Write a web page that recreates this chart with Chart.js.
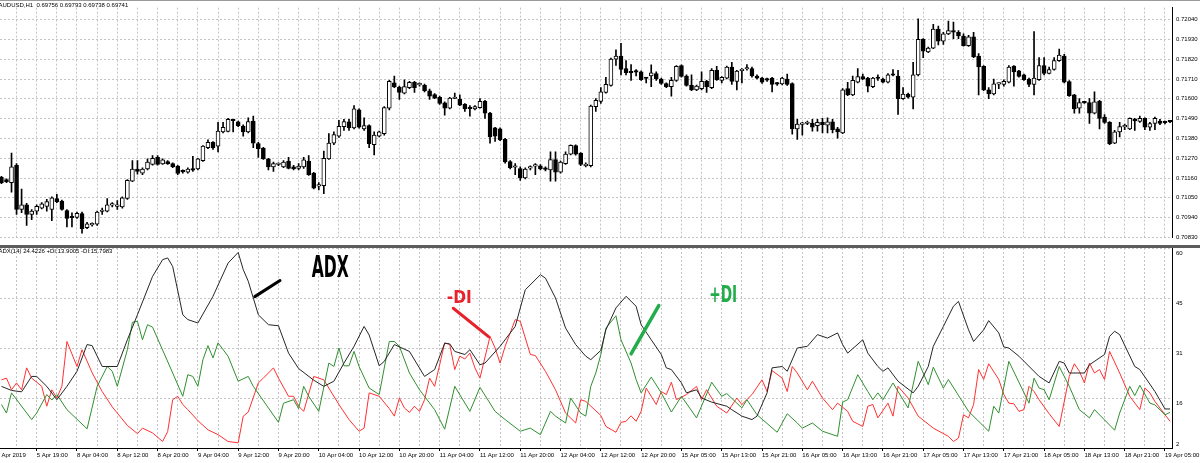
<!DOCTYPE html>
<html>
<head>
<meta charset="utf-8">
<title>AUDUSD H1 with ADX</title>
<script src="https://cdn.jsdelivr.net/npm/chart.js@4.4.1/dist/chart.umd.min.js"></script>
<style>
  html, body { margin: 0; padding: 0; background: #fff; }
  body { position: relative; width: 1200px; height: 463px; overflow: hidden; }
  canvas { position: absolute; left: 0; }
  #priceCanvas { top: 0; }
  #adxCanvas { top: 246px; }
  #topLine { position: absolute; left: 0; top: 0; width: 1200px; height: 1px; background: #9a9a9a; }
  #splitter { position: absolute; left: 0; top: 245px; width: 1200px; height: 3px; background: #5c5c5c; }
</style>
</head>
<body>
<canvas id="priceCanvas" width="1200" height="245"></canvas>
<canvas id="adxCanvas" width="1200" height="217"></canvas>
<div id="topLine"></div>
<div id="splitter"></div>
<script>
// AUDUSD H1 candles, one per bar, prices in points (1 point = 0.00001)
const openPts = [
  71164,71152,71134,71231,70985,71011,70958,70976,70993,71002,
  70985,71046,71032,70979,70942,70941,70962,70884,70900,70904,
  70974,70976,71009,71002,70999,71046,71143,71210,71187,71210,
  71236,71275,71238,71252,71240,71226,71198,71192,71213,71210,
  71257,71328,71358,71337,71416,71419,71483,71472,71449,71416,
  71477,71351,71326,71266,71222,71235,71222,71254,71222,71213,
  71222,71254,71187,71115,71117,71266,71354,71393,71446,71472,
  71439,71539,71433,71451,71345,71393,71407,71548,71689,71666,
  71632,71662,71692,71678,71675,71645,71623,71609,71578,71548,
  71602,71597,71569,71550,71544,71551,71586,71521,71439,71433,
  71375,71252,71220,71213,71161,71215,71226,71228,71212,71205,
  71263,71192,71240,71293,71340,71298,71229,71228,71557,71586,
  71636,71675,71821,71838,71768,71748,71752,71750,71717,71727,
  71741,71710,71685,71668,71703,71785,71727,71675,71650,71657,
  71697,71662,71759,71703,71715,71777,71697,71757,71766,71768,
  71727,71715,71708,71715,71685,71683,71710,71685,71433,71458,
  71463,71465,71451,71469,71454,71472,71433,71411,71657,71622,
  71692,71724,71715,71668,71717,71710,71692,71734,71727,71601,
  71627,71609,71733,71931,71861,71882,71988,71921,71961,71979,
  71970,71949,71896,71944,71838,71780,71650,71627,71682,71680,
  71692,71782,71755,71733,71710,71680,71706,71785,71741,71763,
  71812,71838,71696,71622,71548,71581,71579,71521,71586,71498,
  71469,71354,71416,71444,71433,71486,71474,71491,71442,71463,
  71477,71470,71476
];
const highPts = [
  71169,71155,71298,71240,71099,71020,70985,71011,71023,71041,
  71055,71069,71037,70985,70967,70971,70971,70914,70911,70976,
  70993,71046,71023,71034,71055,71152,71257,71257,71217,71266,
  71284,71284,71266,71257,71245,71231,71205,71217,71280,71270,
  71340,71372,71363,71469,71469,71491,71486,71477,71456,71495,
  71504,71358,71330,71270,71249,71245,71257,71275,71231,71240,
  71275,71284,71192,71134,71310,71407,71416,71481,71486,71486,
  71562,71544,71495,71456,71416,71421,71557,71703,71727,71671,
  71706,71697,71697,71689,71682,71654,71629,71615,71583,71609,
  71632,71622,71574,71562,71562,71601,71592,71525,71442,71439,
  71381,71257,71240,71222,71217,71228,71240,71235,71222,71305,
  71305,71254,71305,71345,71345,71301,71245,71565,71601,71662,
  71720,71826,71873,71909,71812,71791,71763,71755,71720,71789,
  71750,71715,71689,71720,71785,71789,71733,71733,71676,71750,
  71703,71768,71780,71724,71782,71803,71759,71768,71791,71777,
  71734,71720,71715,71720,71692,71720,71738,71689,71486,71469,
  71477,71486,71486,71491,71495,71486,71442,71657,71692,71727,
  71768,71738,71720,71720,71733,71715,71741,71763,71759,71662,
  71632,71803,72044,71935,71887,72014,72005,71970,72032,72027,
  71979,71961,71953,71970,71851,71785,71662,71710,71689,71706,
  71785,71785,71759,71738,71715,71974,71829,71829,71777,71829,
  71877,71847,71701,71625,71601,71586,71601,71639,71592,71513,
  71474,71425,71469,71460,71495,71491,71504,71495,71469,71498,
  71486,71477,71481
];
const lowPts = [
  71129,71134,71081,70958,70967,70897,70928,70958,70988,70976,
  70923,71023,70981,70888,70888,70935,70853,70879,70893,70897,
  70958,70971,70999,70985,70993,71041,71139,71182,71178,71205,
  71231,71231,71235,71235,71217,71178,71187,71187,71196,71205,
  71252,71323,71319,71305,71411,71416,71416,71446,71393,71411,
  71328,71275,71263,71205,71196,71228,71217,71210,71205,71205,
  71213,71175,71099,71094,71073,71263,71345,71386,71425,71425,
  71433,71437,71425,71328,71289,71389,71398,71539,71662,71597,
  71627,71657,71636,71671,71639,71597,71601,71569,71509,71544,
  71601,71562,71530,71504,71539,71548,71491,71354,71363,71367,
  71243,71210,71178,71147,71155,71205,71178,71205,71199,71143,
  71143,71187,71235,71289,71287,71228,71222,71222,71530,71574,
  71632,71671,71785,71733,71733,71703,71727,71703,71689,71668,
  71703,71680,71662,71615,71697,71720,71671,71645,71645,71650,
  71636,71657,71703,71689,71710,71680,71650,71689,71759,71720,
  71710,71685,71697,71639,71675,71678,71675,71403,71375,71398,
  71456,71421,71421,71411,71411,71411,71381,71407,71618,71618,
  71689,71706,71639,71662,71703,71689,71689,71727,71513,71597,
  71604,71544,71727,71829,71856,71879,71900,71903,71956,71935,
  71935,71893,71891,71829,71622,71645,71601,71622,71657,71671,
  71689,71671,71720,71703,71668,71622,71703,71733,71738,71759,
  71808,71689,71613,71521,71521,71574,71463,71516,71433,71463,
  71345,71351,71389,71428,71428,71425,71469,71428,71425,71428,
  71456,71460,71467
];
const closePts = [
  71134,71139,71222,70985,71011,70958,70976,71002,71016,71029,
  71050,71029,70985,70935,70939,70964,70879,70905,70904,70971,
  70978,71011,71013,71009,71050,71147,71210,71196,71210,71249,
  71270,71236,71261,71240,71222,71185,71194,71210,71203,71266,
  71337,71358,71328,71421,71442,71486,71479,71451,71416,71474,
  71354,71323,71266,71222,71240,71238,71249,71213,71210,71226,
  71261,71178,71104,71118,71270,71354,71402,71447,71474,71439,
  71544,71442,71451,71351,71398,71416,71551,71697,71666,71636,
  71668,71692,71662,71682,71645,71615,71604,71574,71548,71604,
  71606,71565,71544,71546,71557,71586,71521,71389,71393,71372,
  71249,71217,71224,71161,71210,71219,71229,71210,71208,71263,
  71192,71249,71293,71342,71293,71235,71233,71560,71592,71639,
  71680,71821,71838,71763,71745,71745,71748,71706,71713,71745,
  71710,71685,71668,71703,71780,71724,71675,71650,71671,71697,
  71668,71759,71706,71720,71777,71697,71754,71761,71770,71727,
  71715,71692,71704,71680,71682,71715,71680,71433,71460,71462,
  71467,71442,71469,71456,71472,71428,71416,71650,71622,71703,
  71724,71710,71671,71715,71713,71692,71733,71731,71601,71627,
  71609,71733,71931,71865,71882,71988,71921,71961,71979,71970,
  71949,71896,71944,71833,71777,71650,71627,71683,71685,71697,
  71777,71750,71724,71706,71680,71715,71785,71741,71763,71812,
  71843,71692,71618,71544,71579,71578,71521,71583,71491,71469,
  71351,71416,71446,71447,71491,71477,71491,71442,71463,71491,
  71463,71467,71472
];

// price scale levels (points)
const priceTicks = [70830, 70940, 71050, 71160, 71270, 71380, 71490, 71600, 71710, 71820, 71930, 72040];

// ADX(14) window levels
const adxTicks = [2.0, 16.6, 31.2, 45.8, 60.4];

// time scale labels, at bar index
const timeBars = [-1, 7, 15, 23, 31, 39, 47, 55, 63, 71, 79, 87, 95, 103, 111, 119, 127, 135, 143, 151, 159, 167, 175, 183, 191, 199, 207, 215, 223, 231];
const timeLabels = ['5 Apr 2019', '5 Apr 19:00', '8 Apr 04:00', '8 Apr 12:00', '8 Apr 20:00', '9 Apr 04:00', '9 Apr 12:00', '9 Apr 20:00',
  '10 Apr 04:00', '10 Apr 12:00', '10 Apr 20:00', '11 Apr 04:00', '11 Apr 12:00', '11 Apr 20:00', '12 Apr 04:00', '12 Apr 12:00', '12 Apr 20:00',
  '15 Apr 05:00', '15 Apr 13:00', '15 Apr 21:00', '16 Apr 05:00', '16 Apr 13:00', '16 Apr 21:00', '17 Apr 05:00', '17 Apr 13:00', '17 Apr 21:00',
  '18 Apr 05:00', '18 Apr 13:00', '18 Apr 21:00', '19 Apr 05:00'];

// indicator lines, read at their turning points (bar index, value)
const adxBar = [0,2,4,6,7,9,11,13,15,17,18,20,23,25,27,30,32,33,34,36,37,39,42,45,47,48,49,51,53,55,57,59,62,64,66,68,70,72,73,75,76,78,81,84,86,88,89,90,92,93,95,96,99,102,104,107,108,110,112,114,116,117,119,120,122,124,126,127,129,131,132,133,135,136,138,139,141,144,145,147,149,150,152,153,155,156,158,160,162,164,166,167,168,171,172,174,175,176,178,181,182,184,185,187,189,190,192,193,195,196,198,199,200,202,206,208,210,211,212,215,216,219,220,221,222,225,226,229,231,232];
const adxVal = [20.0,18.8,18.4,22.9,22.9,20.0,16.1,20.0,24.4,32.2,31.9,25.8,25.8,33.6,40.9,52.1,57.0,57.5,55.0,40.9,39.5,38.5,46.3,56.0,59.1,54.1,50.7,40.9,38.0,37.7,29.7,25.2,21.8,20.0,21.5,26.8,31.7,37.5,35.0,26.0,27.3,32.2,30.2,22.9,24.9,32.6,32.4,30.2,29.3,30.7,26.3,26.8,31.7,37.5,48.2,52.6,51.6,45.8,37.0,32.2,28.8,27.8,30.5,36.5,42.9,46.3,43.4,38.0,33.6,29.3,25.4,24.9,21.0,18.1,19.0,16.6,15.4,14.2,13.2,11.3,10.3,11.3,18.1,25.4,25.8,24.4,31.2,31.7,35.1,34.1,35.6,32.2,29.7,33.6,29.7,25.8,24.4,25.4,21.5,18.1,20.0,25.8,31.7,37.5,43.4,44.8,36.5,33.1,36.5,39.2,35.6,31.5,31.2,28.8,22.9,21.0,27.3,26.8,23.9,23.9,26.3,29.3,34.6,36.1,35.1,25.8,24.9,18.5,13.4,13.4];

const plusBar = [0,1,2,6,7,9,10,11,13,17,19,21,22,23,25,26,27,28,29,30,34,36,37,38,39,40,41,42,43,45,47,49,50,55,56,58,59,60,61,63,65,66,67,68,69,70,71,73,75,77,78,79,81,83,86,88,90,93,95,98,100,103,105,107,109,110,112,113,115,116,117,118,119,120,122,123,125,126,127,129,131,133,135,138,141,143,144,147,148,150,154,156,158,159,161,163,166,167,168,170,172,173,174,175,177,178,180,182,183,184,185,187,188,192,196,197,198,200,204,205,206,207,208,210,212,214,216,217,221,222,224,225,226,228,229,231,232];
const plusVal = [14.7,12.2,18.1,10.3,12.2,17.6,16.0,17.6,13.2,7.6,20.0,25.8,24.4,20.0,30.7,38.7,39.0,33.6,38.0,37.3,23.9,17.1,23.4,22.9,20.0,27.8,31.9,28.3,32.7,28.8,21.5,22.9,20.0,9.5,15.1,16.1,13.5,20.0,17.1,12.7,26.8,25.8,31.2,26.0,26.0,30.2,25.8,19.5,17.6,33.1,33.1,31.7,23.9,19.0,13.2,7.5,20.0,12.7,19.7,12.7,10.3,6.9,7.8,5.9,12.7,11.3,9.3,16.6,12.2,11.3,20.0,23.9,29.3,37.0,40.6,33.6,26.8,22.0,18.1,22.7,18.1,12.5,17.1,10.8,21.2,17.1,17.9,13.7,16.1,11.7,6.6,12.0,9.3,7.8,9.3,6.9,5.4,15.4,16.1,23.4,18.5,16.1,18.1,16.1,21.0,18.5,13.7,27.3,23.9,20.5,25.6,19.5,22.0,12.7,6.9,14.2,12.2,27.3,15.1,22.4,19.5,19.0,16.1,25.8,20.0,13.2,10.8,13.2,7.2,12.2,20.0,17.3,20.3,15.1,14.6,11.7,12.4];

const minusBar = [0,1,2,3,4,5,6,8,9,10,11,12,13,15,16,18,20,22,25,27,28,30,32,33,34,35,36,37,39,41,43,45,47,48,49,51,52,54,55,57,58,59,60,62,64,67,69,71,72,73,75,77,78,79,80,81,82,83,84,85,86,87,88,89,90,91,92,93,94,95,97,98,99,100,102,103,105,106,108,110,112,114,115,116,119,120,122,123,124,125,126,127,128,129,130,131,132,133,134,136,138,139,140,142,144,146,147,149,151,152,153,155,156,157,158,160,161,163,165,166,168,169,171,172,173,174,176,177,178,180,182,185,188,189,190,191,192,193,194,195,196,198,199,200,201,202,203,204,205,206,208,210,212,213,214,215,216,217,218,219,220,222,224,226,227,228,229,232];
const minusVal = [21.9,22.4,19.0,21.0,19.0,25.4,22.4,20.0,14.2,19.0,16.6,20.0,33.1,25.8,30.7,24.0,18.5,14.0,8.6,6.2,7.8,6.4,3.9,6.8,16.1,17.1,14.7,13.2,10.0,7.3,5.9,3.9,3.5,11.3,12.5,21.0,22.4,25.4,22.4,17.1,17.1,14.2,12.7,22.9,21.9,14.7,10.3,6.9,7.8,18.1,17.1,13.5,11.3,16.6,13.7,12.4,14.2,12.7,16.1,22.4,20.0,26.3,32.7,32.2,24.9,28.8,28.0,29.7,25.4,22.4,34.6,31.2,26.8,31.7,39.5,39.0,29.3,29.0,24.4,19.0,12.2,9.3,16.1,15.6,11.5,8.3,6.6,9.5,9.8,11.4,9.8,12.7,19.5,17.1,14.7,18.5,17.6,21.2,16.1,17.6,20.0,16.1,19.0,14.2,12.2,16.6,14.7,17.6,21.9,18.5,24.6,22.4,18.5,25.8,23.9,19.0,21.5,16.6,13.2,15.1,12.7,9.8,8.3,14.2,14.7,10.8,15.1,11.3,20.0,16.6,11.3,7.8,5.4,3.9,4.9,11.7,10.8,14.7,24.9,22.0,26.6,22.0,17.6,15.1,14.9,12.7,13.2,20.0,18.5,16.1,12.0,8.3,22.9,26.6,24.4,21.0,26.8,23.9,24.9,22.0,30.2,23.9,17.1,13.2,19.5,18.1,15.6,9.8];

// hand drawn notes on the indicator window (bar index / indicator value)
const notes = [
  { text: 'ADX', color: '#000000', bar: 61.6, val: 52.0, cap: 21.7, width: 37 },
  { text: '-DI', color: '#e8212b', bar: 88.4, val: 44.3, cap: 13.3, width: 25 },
  { text: '+DI', color: '#22ad4a', bar: 140.5, val: 44.7, cap: 16.7, width: 28 }
];
const pointers = [
  { color: '#000000', bar1: 50.3, val1: 46.2, bar2: 55.3, val2: 50.9, width: 3 },
  { color: '#e8212b', bar1: 89.7, val1: 42.8, bar2: 96.7, val2: 34.5, width: 3 },
  { color: '#22ad4a', bar1: 125.0, val1: 29.5, bar2: 130.5, val2: 43.6, width: 3.5 }
];

const xMin = -0.286;
const xMax = 232.39;

const gridBars = [];
for (let b = -1; b <= xMax; b += 4) gridBars.push(b);

const labelFor = v => {
  const k = timeBars.indexOf(v);
  return k < 0 ? '' : timeLabels[k];
};

const AXIS_FONT = { family: '"Liberation Sans", Arial, sans-serif', size: 6 };
const GRID = '#c4c4c4';

const bars = openPts.map((o, i) => i);
const bodyData = bars.map(i => ({ x: i, y: [openPts[i], closePts[i]] }));
const wickData = bars.map(i => ({ x: i, y: [lowPts[i], highPts[i]] }));

const series = (xs, ys) => xs.map((x, i) => ({ x: x, y: ys[i] }));

// both windows share the same bar -> pixel mapping, so the time axis
// must not push the plot area in to make room for its edge labels
const fitTimeAxis = h => s => {
  s.height = h;
  s.paddingLeft = 0;
  s.paddingRight = 0;
};

function header(id, text) {
  return {
    id: id,
    afterDraw(chart) {
      const c = chart.ctx;
      c.save();
      c.font = '6px "Liberation Sans", Arial, sans-serif';
      c.fillStyle = '#000';
      c.textBaseline = 'middle';
      c.fillText(text, -1.5, 5);
      c.restore();
    }
  };
}

// window levels are written just under their line, kept inside the window
const adxAxisLabels = {
  id: 'adxAxisLabels',
  afterDraw(chart) {
    const c = chart.ctx;
    const s = chart.scales.y;
    const a = chart.chartArea;
    c.save();
    c.font = '6px "Liberation Sans", Arial, sans-serif';
    c.fillStyle = '#000';
    c.textBaseline = 'middle';
    adxTicks.forEach(v => {
      let yy = s.getPixelForValue(v) + 5;
      yy = Math.max(a.top + 2, Math.min(a.bottom - 4, yy));
      c.fillText(String(Math.floor(v)), a.right + 4, yy);
    });
    c.restore();
  }
};

const notesPlugin = {
  id: 'notes',
  afterDatasetsDraw(chart) {
    const c = chart.ctx;
    const x = chart.scales.x;
    const y = chart.scales.y;
    c.save();
    pointers.forEach(p => {
      c.strokeStyle = p.color;
      c.lineWidth = p.width;
      c.lineCap = 'round';
      c.beginPath();
      c.moveTo(x.getPixelForValue(p.bar1), y.getPixelForValue(p.val1));
      c.lineTo(x.getPixelForValue(p.bar2), y.getPixelForValue(p.val2));
      c.stroke();
    });
    notes.forEach(n => {
      c.font = 'bold ' + (n.cap / 0.73).toFixed(1) + 'px "DejaVu Sans Condensed", "DejaVu Sans", sans-serif';
      const w = c.measureText(n.text).width;
      c.save();
      c.translate(x.getPixelForValue(n.bar), y.getPixelForValue(n.val));
      c.scale(n.width / w, 1);
      c.fillStyle = n.color;
      c.textBaseline = 'alphabetic';
      c.fillText(n.text, 0, 0);
      c.restore();
    });
    c.restore();
  }
};

// price window
new Chart(document.getElementById('priceCanvas'), {
  type: 'bar',
  data: {
    datasets: [
      {
        data: bodyData,
        grouped: false,
        order: 0,
        barThickness: 4,
        minBarLength: 1.5,
        backgroundColor: c => closePts[c.dataIndex] >= openPts[c.dataIndex] ? '#ffffff' : '#000000',
        borderColor: '#000000',
        borderWidth: 1,
        borderSkipped: false
      },
      {
        data: wickData,
        grouped: false,
        order: 1,
        barThickness: 1,
        minBarLength: 1,
        backgroundColor: '#000000',
        borderWidth: 0
      }
    ]
  },
  options: {
    responsive: false,
    animation: false,
    events: [],
    layout: { padding: { top: 1, bottom: 2, left: 0, right: 0 } },
    plugins: { legend: { display: false }, tooltip: { enabled: false } },
    scales: {
      x: {
        type: 'linear',
        min: xMin,
        max: xMax,
        offset: false,
        afterBuildTicks: s => { s.ticks = gridBars.map(v => ({ value: v })); },
        afterFit: fitTimeAxis(0),
        ticks: { display: false },
        grid: { color: GRID, offset: false, drawTicks: false },
        border: { display: false, dash: [2, 2] }
      },
      y: {
        position: 'right',
        min: 70830,
        max: 72107,
        afterBuildTicks: s => { s.ticks = priceTicks.map(v => ({ value: v })); },
        afterFit: s => { s.width = 28; },
        ticks: { font: AXIS_FONT, color: '#000', padding: 4, callback: v => (v / 100000).toFixed(5) },
        grid: { color: GRID, drawTicks: false },
        border: { display: true, color: '#000', dash: [2, 2] }
      }
    }
  },
  plugins: [header('priceHeader', 'AUDUSD,H1  0.69756 0.69793 0.69738 0.69741')]
});

// ADX(14) window
new Chart(document.getElementById('adxCanvas'), {
  type: 'line',
  data: {
    datasets: [
      { label: 'ADX', data: series(adxBar, adxVal), borderColor: '#262626' },
      { label: '+DI', data: series(plusBar, plusVal), borderColor: '#2f8f2f' },
      { label: '-DI', data: series(minusBar, minusVal), borderColor: '#ff3030' }
    ].map(d => Object.assign(d, { borderWidth: 1, pointRadius: 0, tension: 0, fill: false }))
  },
  options: {
    responsive: false,
    animation: false,
    events: [],
    layout: { padding: { top: 2, bottom: 0, left: 0, right: 0 } },
    plugins: { legend: { display: false }, tooltip: { enabled: false } },
    scales: {
      x: {
        type: 'linear',
        min: xMin,
        max: xMax,
        offset: false,
        afterBuildTicks: s => { s.ticks = gridBars.map(v => ({ value: v })); },
        afterFit: fitTimeAxis(15),
        ticks: {
          autoSkip: false, maxRotation: 0, minRotation: 0, align: 'start', padding: 1,
          font: AXIS_FONT, color: '#000', callback: v => labelFor(v)
        },
        grid: {
          color: GRID, offset: false, tickLength: 3, tickBorderDash: [],
          tickColor: c => (c.tick && labelFor(c.tick.value)) ? '#000' : 'rgba(0,0,0,0)'
        },
        border: { display: true, color: '#000', dash: [2, 2] }
      },
      y: {
        position: 'right',
        min: 2.0,
        max: 60.4,
        afterBuildTicks: s => { s.ticks = adxTicks.map(v => ({ value: v })); },
        afterFit: s => { s.width = 28; },
        ticks: { display: false },
        grid: { color: GRID, drawTicks: false },
        border: { display: true, color: '#000', dash: [2, 2] }
      }
    }
  },
  plugins: [header('adxHeader', 'ADX(14) 24.4226 +DI:13.9005 -DI:15.7983'), adxAxisLabels, notesPlugin]
});
</script>
</body>
</html>
